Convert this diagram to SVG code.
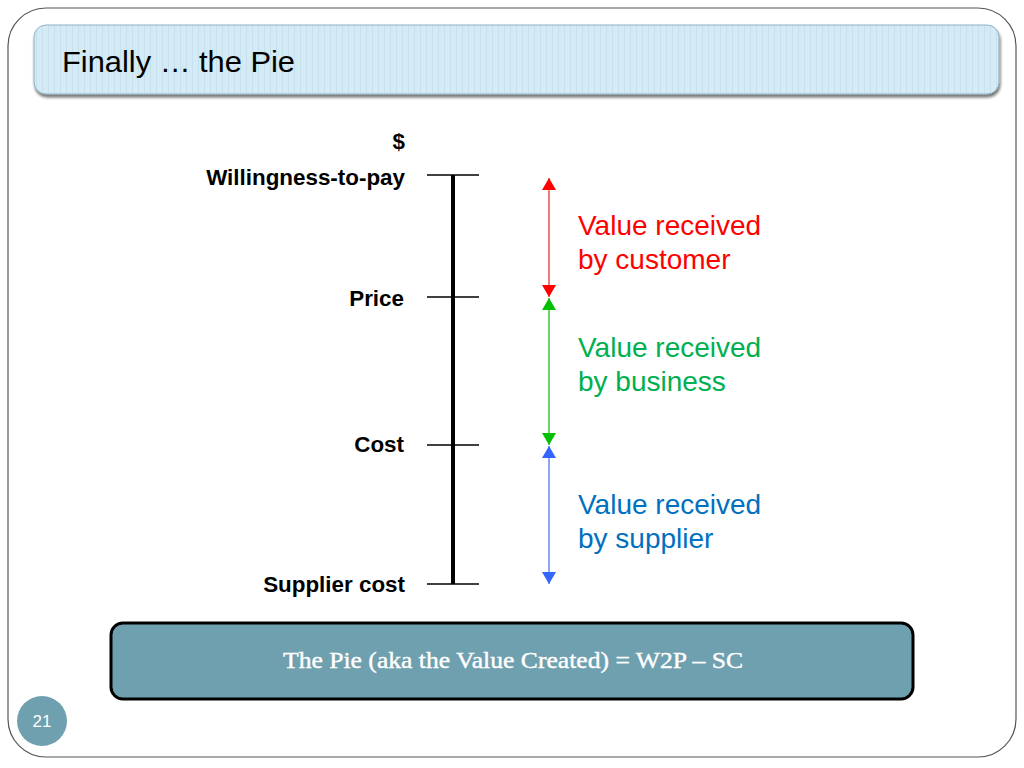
<svg xmlns="http://www.w3.org/2000/svg" width="1024" height="768" viewBox="0 0 1024 768">
<defs>
<pattern id="stripes" width="6" height="10" patternUnits="userSpaceOnUse">
<rect width="6" height="10" fill="#d4eaf5"/>
<rect x="0" width="1" height="10" fill="#c6e0ee"/>
</pattern>
<filter id="sh" x="-5%" y="-20%" width="110%" height="150%">
<feGaussianBlur in="SourceAlpha" stdDeviation="1.5"/>
<feOffset dx="1" dy="3" result="b"/>
<feComponentTransfer><feFuncA type="linear" slope="0.55"/></feComponentTransfer>
<feMerge><feMergeNode/><feMergeNode in="SourceGraphic"/></feMerge>
</filter>
<marker id="hr" viewBox="0 0 12 14" refX="12" refY="7" markerWidth="12" markerHeight="14" markerUnits="userSpaceOnUse" orient="auto"><path d="M0,0 L12,7 L0,14 Z" fill="#ff0000"/></marker>
<marker id="hg" viewBox="0 0 12 14" refX="12" refY="7" markerWidth="12" markerHeight="14" markerUnits="userSpaceOnUse" orient="auto"><path d="M0,0 L12,7 L0,14 Z" fill="#00c000"/></marker>
<marker id="hb" viewBox="0 0 12 14" refX="12" refY="7" markerWidth="12" markerHeight="14" markerUnits="userSpaceOnUse" orient="auto"><path d="M0,0 L12,7 L0,14 Z" fill="#3366ff"/></marker>
</defs>
<style>
.lbl{font-family:"Liberation Sans",Arial,sans-serif;font-weight:bold;font-size:22.4px;fill:#000;text-anchor:end}
.val{font-family:"Liberation Sans",Arial,sans-serif;font-size:28px}
.tick{stroke:#000;stroke-width:1.3}
</style>
<rect width="1024" height="768" fill="#fff"/>
<rect id="frame" x="8" y="8" width="1008" height="749" rx="38" ry="38" fill="none" stroke="#555" stroke-width="1.2"/>
<g id="title">
<rect x="34" y="25" width="965" height="69" rx="12" ry="12" fill="url(#stripes)" stroke="#8fb1c0" stroke-width="1" filter="url(#sh)"/>
<text x="62" y="72" font-family="Liberation Sans,Arial,sans-serif" font-size="30" fill="#000" textLength="233" lengthAdjust="spacingAndGlyphs">Finally … the Pie</text>
</g>
<g id="scale">
<line x1="453" y1="175" x2="453" y2="584" stroke="#000" stroke-width="4"/>
<line class="tick" x1="427" y1="175" x2="479" y2="175"/>
<line class="tick" x1="427" y1="297" x2="479" y2="297"/>
<line class="tick" x1="427" y1="445" x2="479" y2="445"/>
<line class="tick" x1="427" y1="584" x2="479" y2="584" stroke="#555"/>
</g>
<g id="labels">
<text class="lbl" x="405" y="149">$</text>
<text class="lbl" x="405" y="185">Willingness-to-pay</text>
<text class="lbl" x="404" y="306">Price</text>
<text class="lbl" x="404" y="452">Cost</text>
<text class="lbl" x="405" y="592">Supplier cost</text>
</g>
<g id="connectors">
<line x1="549" y1="237" x2="549" y2="178" stroke="#e85050" stroke-width="1.5" marker-end="url(#hr)"/>
<line x1="549" y1="237" x2="549" y2="297" stroke="#e85050" stroke-width="1.5" marker-end="url(#hr)"/>
<line x1="549" y1="371" x2="549" y2="298" stroke="#40c040" stroke-width="1.5" marker-end="url(#hg)"/>
<line x1="549" y1="371" x2="549" y2="445" stroke="#40c040" stroke-width="1.5" marker-end="url(#hg)"/>
<line x1="549" y1="515" x2="549" y2="446" stroke="#6688ee" stroke-width="1.5" marker-end="url(#hb)"/>
<line x1="549" y1="515" x2="549" y2="584" stroke="#6688ee" stroke-width="1.5" marker-end="url(#hb)"/>
</g>
<g id="customer">
<text class="val" x="578" y="235" fill="#ff0000">Value received</text>
<text class="val" x="578" y="269" fill="#ff0000">by customer</text>
</g>
<g id="business">
<text class="val" x="578" y="357" fill="#00b050">Value received</text>
<text class="val" x="578" y="391" fill="#00b050">by business</text>
</g>
<g id="supplier">
<text class="val" x="578" y="514" fill="#0070c0">Value received</text>
<text class="val" x="578" y="548" fill="#0070c0">by supplier</text>
</g>
<g id="pie">
<rect x="111" y="623" width="802" height="76" rx="12" ry="12" fill="#6fa0af" stroke="#000" stroke-width="3"/>
<text x="513" y="668" text-anchor="middle" font-family="Liberation Serif,Times New Roman,serif" font-size="24" fill="#fff" stroke="#fff" stroke-width="0.4" textLength="460" lengthAdjust="spacingAndGlyphs">The Pie (aka the Value Created) = W2P – SC</text>
</g>
<g id="page">
<circle cx="42" cy="721" r="25" fill="#6fa0af"/>
<text x="42" y="727" text-anchor="middle" font-family="Liberation Sans,Arial,sans-serif" font-size="17" fill="#fff">21</text>
</g>
</svg>
